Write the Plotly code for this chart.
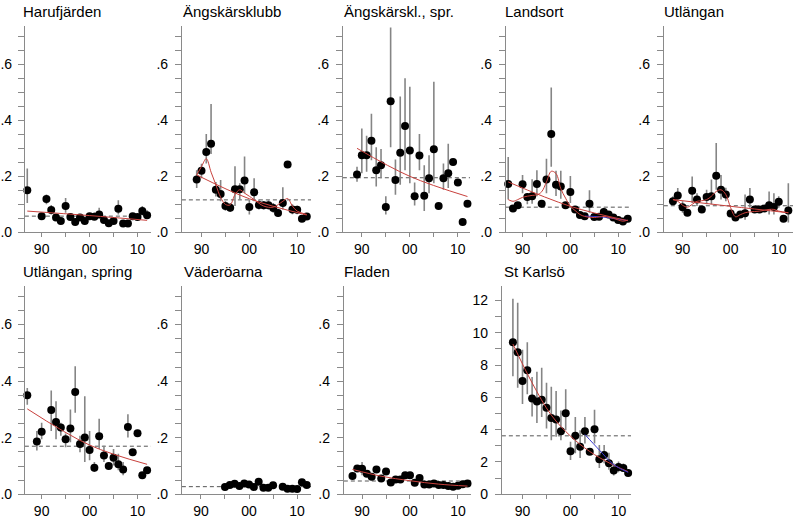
import plotly.graph_objects as go

# --- data --------------------------------------------------------------
haru_years = [1987] + list(range(1990, 2013))
haru_mean = [.150, .058, .119, .080, .053, .041, .094, .055, .037, .053, .041, .058, .056, .064, .044, .033, .041, .084, .032, .032, .058, .055, .076, .061]
haru_hi = [.228, .065, .135, .098, .060, .047, .123, .062, .042, .060, .047, .065, .071, .088, .050, .038, .047, .115, .037, .037, .065, .062, .094, .079]
haru_lo = [.105, .052, .100, .064, .047, .036, .070, .049, .032, .047, .036, .052, .044, .050, .039, .029, .036, .064, .028, .028, .052, .049, .060, .050]
haru_avg = 0.058
haru_trend_x = [1987, 2000, 2012]
haru_trend = [0.076, 0.060, 0.043]

angk_years = list(range(1989, 2013))
angk_mean = [.189, .220, .287, .316, .152, .137, .094, .088, .154, .154, .185, .091, .143, .098, .097, .097, .087, .069, .105, .242, .082, .081, .049, .057]
angk_hi = [.222, .245, .351, .458, .180, .187, .112, .105, .236, .175, .271, .117, .193, .117, .112, .115, .105, .084, .161, .250, .100, .095, .056, .064]
angk_lo = [.158, .193, .246, .280, .128, .111, .077, .073, .094, .117, .140, .064, .111, .082, .082, .082, .070, .055, .082, .234, .065, .065, .043, .050]
angk_avg = 0.116
angk_trend_x = [1989, 2000, 2012]
angk_trend = [0.205, 0.120, 0.062]
angk_smooth_x = [1989, 1990, 1991, 1992, 1993, 1994, 1995, 1996, 1997, 1998, 1999, 2000, 2001, 2003, 2005, 2007, 2008, 2009, 2010, 2012]
angk_smooth = [.205, .235, .263, .215, .170, .125, .100, .098, .135, .152, .140, .129, .117, .094, .090, .111, .121, .094, .076, .064]

angs_years = list(range(1989, 2013))
angs_mean = [.207, .275, .275, .327, .222, .240, .091, .468, .187, .284, .380, .292, .129, .274, .131, .193, .297, .094, .193, .211, .251, .178, .037, .102]
angs_hi = [.234, .371, .345, .423, .304, .298, .129, .731, .260, .485, .550, .520, .178, .351, .240, .275, .538, .094, .246, .316, .251, .178, .037, .102]
angs_lo = [.181, .211, .216, .257, .164, .193, .064, .304, .134, .170, .222, .175, .096, .222, .076, .140, .175, .094, .152, .158, .251, .178, .037, .102]
angs_avg = 0.195
angs_trend_x = [1989, 2000, 2012]
angs_trend = [0.300, 0.200, 0.128]

land_years = list(range(1987, 2013))
land_mean = [.173, .085, .097, .172, .126, .129, .173, .102, .189, .351, .170, .164, .097, .144, .082, .062, .058, .102, .055, .056, .073, .064, .053, .044, .039, .049]
land_hi = [.269, .092, .104, .205, .140, .190, .222, .110, .263, .517, .220, .220, .105, .201, .090, .068, .064, .150, .060, .062, .088, .070, .058, .048, .043, .055]
land_lo = [.117, .078, .090, .140, .100, .102, .129, .095, .140, .234, .130, .120, .090, .105, .075, .056, .052, .070, .050, .051, .060, .058, .048, .040, .035, .043]
land_avg = 0.090
land_trend_x = [1987, 2000, 2012]
land_trend = [0.180, 0.093, 0.042]
land_smooth_x = [1987, 1988, 1989, 1990, 1992, 1993, 1994, 1995, 1996, 1997, 1998, 1999, 2000, 2001, 2002, 2003, 2005, 2007, 2009, 2011, 2012]
land_smooth = [.117, .111, .117, .125, .132, .134, .145, .180, .218, .210, .156, .122, .093, .078, .064, .057, .053, .057, .050, .040, .044]
land_recent_x = [2003, 2006, 2009, 2012]
land_recent = [0.058, 0.056, 0.050, 0.042]

utl_years = list(range(1988, 2013))
utl_mean = [.111, .132, .090, .070, .149, .117, .082, .126, .129, .202, .152, .135, .067, .053, .064, .068, .117, .082, .082, .085, .097, .091, .109, .049, .078]
utl_hi = [.129, .158, .111, .078, .199, .140, .090, .152, .189, .319, .205, .159, .075, .058, .072, .135, .158, .090, .090, .093, .146, .140, .129, .055, .175]
utl_lo = [.097, .111, .070, .062, .105, .094, .074, .100, .100, .152, .117, .111, .058, .048, .056, .045, .088, .074, .074, .076, .064, .064, .088, .044, .035]
utl_avg = 0.095
utl_trend_x = [1988, 2000, 2012]
utl_trend = [0.117, 0.093, 0.070]
utl_smooth_x = [1988, 1989, 1990, 1991, 1992, 1993, 1994, 1995, 1996, 1997, 1998, 1999, 2000, 2001, 2002, 2003, 2004, 2006, 2008, 2009, 2010, 2012]
utl_smooth = [.117, .111, .097, .090, .100, .111, .113, .117, .129, .146, .152, .135, .088, .056, .063, .070, .073, .076, .082, .082, .076, .070]

utls_years = [1987, 1989, 1990] + list(range(1992, 2013))
utls_mean = [.350, .187, .221, .298, .256, .236, .195, .233, .362, .178, .201, .157, .094, .205, .137, .100, .129, .106, .088, .238, .149, .216, .067, .085]
utls_hi = [.376, .224, .253, .367, .329, .253, .215, .300, .453, .207, .347, .224, .114, .267, .172, .108, .160, .143, .114, .283, .149, .216, .067, .085]
utls_lo = [.317, .155, .195, .224, .195, .207, .166, .184, .288, .149, .114, .120, .079, .160, .114, .092, .102, .085, .067, .201, .149, .216, .067, .085]
utls_avg = 0.170
utls_trend_x = [1987, 2000, 2012]
utls_trend = [0.302, 0.174, 0.106]

vade_years = list(range(1995, 2006)) + list(range(2007, 2013))
vade_mean = [.026, .033, .037, .029, .038, .035, .026, .044, .023, .023, .032, .027, .020, .020, .019, .043, .033]
vade_avg = 0.027

flad_years = list(range(1988, 2013))
flad_mean = [.065, .091, .090, .073, .062, .088, .056, .081, .042, .052, .052, .067, .067, .041, .058, .035, .035, .038, .033, .033, .029, .027, .030, .036, .038]
flad_hi = [.070, .100, .114, .078, .066, .094, .060, .086, .046, .056, .056, .072, .072, .045, .062, .038, .038, .041, .036, .036, .032, .030, .033, .039, .041]
flad_lo = [.060, .082, .067, .068, .058, .082, .052, .076, .038, .048, .048, .062, .062, .037, .054, .032, .032, .035, .030, .030, .026, .024, .027, .033, .035]
flad_avg = 0.047
flad_trend_x = [1988, 1994, 2000, 2006, 2012]
flad_trend = [0.088, 0.064, 0.048, 0.036, 0.029]

karl_years = list(range(1988, 2013))
karl_mean = [9.41, 8.80, 7.01, 7.68, 5.93, 5.75, 5.85, 5.35, 4.72, 4.63, 3.90, 5.02, 2.66, 3.62, 2.95, 3.90, 2.64, 4.02, 2.17, 2.44, 1.93, 1.48, 1.69, 1.63, 1.32]
karl_hi = [12.1, 11.85, 8.94, 9.41, 7.26, 7.58, 7.83, 6.91, 6.65, 6.40, 5.18, 6.50, 3.25, 4.78, 3.96, 4.78, 2.64, 5.24, 3.05, 3.05, 2.58, 1.93, 2.03, 1.90, 1.32]
karl_lo = [7.3, 6.6, 5.59, 6.20, 4.82, 4.41, 4.78, 4.07, 3.35, 3.56, 3.35, 3.96, 2.13, 2.54, 2.24, 3.15, 2.64, 3.15, 1.63, 1.93, 1.52, 1.16, 1.36, 1.40, 1.32]
karl_avg = 3.62
karl_trend_x = [1988, 1992, 1996, 2000, 2004, 2008, 2012]
karl_trend = [9.3, 6.9, 4.9, 3.6, 2.65, 1.95, 1.4]
karl_recent_x = [2003, 2006, 2009, 2012]
karl_recent = [3.7, 2.74, 1.83, 1.36]

year_ticks = [1990, 2000, 2010]
year_labels = ["90", "00", "10"]
frac_ticks = [0, 0.2, 0.4, 0.6]
frac_labels = [".0", ".2", ".4", ".6"]
karl_ticks = [0, 2, 4, 6, 8, 10, 12]

W, H = 793, 522
RED = "#c8403c"
BLUE = "#3a3ad0"
AXIS = "#8a8a8a"
FONT = "Liberation Sans, Arial"

# panel table: title, data, axis box in pixels (left, right, top, bottom), x range, title x
panels = [
    ("Harufjärden", haru_years, haru_mean, haru_hi, haru_lo, haru_avg,
     [(haru_trend_x, haru_trend, RED)], (20, 147, 26, 236), (1986.5, 2012.83), 22),
    ("Ängskärsklubb", angk_years, angk_mean, angk_hi, angk_lo, angk_avg,
     [(angk_trend_x, angk_trend, RED), (angk_smooth_x, angk_smooth, RED)],
     (178, 308, 26, 236), (1985.9, 2012.9), 183),
    ("Ängskärskl., spr.", angs_years, angs_mean, angs_hi, angs_lo, angs_avg,
     [(angs_trend_x, angs_trend, RED)], (340, 468, 26, 236), (1986.05, 2012.54), 345),
    ("Landsort", land_years, land_mean, land_hi, land_lo, land_avg,
     [(land_recent_x, land_recent, BLUE), (land_trend_x, land_trend, RED), (land_smooth_x, land_smooth, RED)],
     (504, 630, 26, 236), (1986.5, 2012.69), 507),
    ("Utlängan", utl_years, utl_mean, utl_hi, utl_lo, utl_avg,
     [(utl_trend_x, utl_trend, RED), (utl_smooth_x, utl_smooth, RED)],
     (663, 793, 26, 236), (1986.1, 2012.97), 667),
    ("Utlängan, spring", utls_years, utls_mean, utls_hi, utls_lo, utls_avg,
     [(utls_trend_x, utls_trend, RED)], (20, 147, 290, 502), (1986.5, 2012.83), 22),
    ("Väderöarna", vade_years, vade_mean, vade_mean, vade_mean, vade_avg,
     [], (178, 308, 290, 502), (1986.03, 2012.9), 184),
    ("Fladen", flad_years, flad_mean, flad_hi, flad_lo, flad_avg,
     [(flad_trend_x, flad_trend, RED)], (341, 469, 290, 502), (1986.2, 2012.74), 345),
    ("St Karlsö", karl_years, karl_mean, karl_hi, karl_lo, karl_avg,
     [(karl_trend_x, karl_trend, RED), (karl_recent_x, karl_recent, BLUE)],
     (500, 630, 290, 502), (1985.7, 2012.6), 506),
]

fig = go.Figure()
layout = {}
annotations = []

for i, (title, yrs, mean, hi, lo, avg, lines, box, xr, tx) in enumerate(panels):
    n = "" if i == 0 else str(i + 1)
    xa, ya = "x" + n, "y" + n
    left, right, top, bottom = box
    is_karl = title == "St Karlsö"

    # mean level over the whole period
    fig.add_trace(go.Scatter(x=list(xr), y=[avg, avg], mode="lines", xaxis=xa, yaxis=ya,
                             line=dict(color="#555555", width=1, dash="4px,3px"), hoverinfo="skip"))
    # yearly values with confidence intervals
    fig.add_trace(go.Scatter(
        x=yrs, y=mean, mode="markers", xaxis=xa, yaxis=ya, cliponaxis=False,
        marker=dict(color="black", size=8),
        error_y=dict(type="data", symmetric=False,
                     array=[h - m for h, m in zip(hi, mean)],
                     arrayminus=[m - l for m, l in zip(mean, lo)],
                     color="#858585", thickness=1.6, width=0),
    ))
    for lx, ly, col in lines:
        fig.add_trace(go.Scatter(x=lx, y=ly, mode="lines", xaxis=xa, yaxis=ya,
                                 line=dict(color=col, width=1, shape="spline"), hoverinfo="skip"))

    axis_common = dict(showline=True, linecolor=AXIS, linewidth=1, ticks="outside",
                       tickcolor=AXIS, showgrid=False, zeroline=False,
                       tickfont=dict(family=FONT, size=14, color="black"))
    layout["xaxis" + n] = dict(
        axis_common, domain=[left / W, right / W], range=list(xr), anchor=ya,
        tickmode="array", tickvals=year_ticks, ticktext=year_labels, ticklen=4,
        minor=dict(dtick=5, tick0=1990, ticks="outside", ticklen=4, tickcolor=AXIS),
    )
    if is_karl:
        ydef = dict(range=[0, 12.92], tickvals=karl_ticks, ticktext=[str(v) for v in karl_ticks],
                    minor=dict(dtick=1, tick0=0, ticks="outside", ticklen=6, tickcolor=AXIS))
    else:
        ydef = dict(range=[0, 0.738], tickvals=frac_ticks, ticktext=frac_labels,
                    minor=dict(dtick=0.05, tick0=0, ticks="outside", ticklen=6, tickcolor=AXIS))
    layout["yaxis" + n] = dict(
        axis_common, domain=[1 - bottom / H, 1 - top / H], anchor=xa,
        tickmode="array", ticklen=6, ticklabelstandoff=3 if left < 30 else 4, **ydef,
    )
    annotations.append(dict(
        text=title, xref="paper", yref="paper", x=(tx - 6) / W, y=1 - (top - 14) / H,
        xanchor="left", yanchor="middle", showarrow=False,
        font=dict(family=FONT, size=15, color="black"),
    ))

fig.update_layout(
    width=W, height=H, margin=dict(l=0, r=0, t=0, b=0),
    paper_bgcolor="white", plot_bgcolor="white", showlegend=False,
    annotations=annotations, **layout,
)
# the page body has a default 8px margin; drop it so the figure fills the window
fig.write_html("out.html", config={"displayModeBar": False},
               post_script="document.body.style.margin='0';")
